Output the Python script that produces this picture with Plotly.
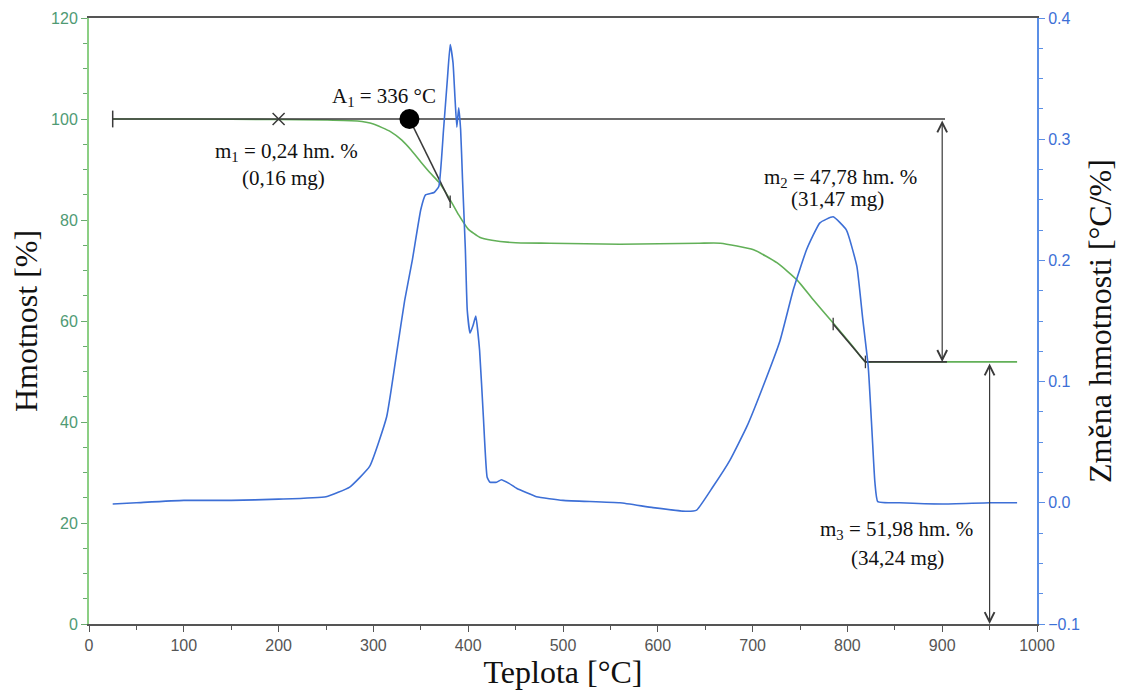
import plotly.graph_objects as go

# TG curve - weight [%]
tg_temp = [25, 100, 200, 250, 283, 300, 318, 330, 340, 350, 360, 369, 381, 390, 400,
           412, 425, 450, 486, 560, 644, 666, 701, 726, 747, 764, 785, 806, 819, 830, 900, 979]
tg_mass = [100.0, 100.0, 99.9, 99.8, 99.6, 99.0, 97.5, 95.8, 93.8, 91.5, 89.3, 87.5, 84.0, 81.0, 78.2,
           76.6, 76.0, 75.5, 75.4, 75.2, 75.4, 75.4, 74.1, 71.5, 68.1, 64.2, 59.6, 54.9, 51.9, 51.9, 51.9, 51.9]

# DTG curve - weight change rate
dtg_temp = [25, 50, 100, 150, 200, 250, 275, 296, 314, 325, 333, 341, 350, 355, 364, 369, 374, 378,
            381, 384, 386, 388, 390, 392, 394, 397, 399, 402, 405, 408, 412, 416, 420, 423, 430, 435,
            443, 451, 472, 500, 560, 595, 631, 641, 658, 676, 694, 711, 729, 743, 757, 771, 785, 799,
            810, 816, 822, 826, 829, 832, 855, 900, 950, 979]
dtg_rate = [-0.001, 0.000, 0.002, 0.002, 0.003, 0.005, 0.013, 0.030, 0.071, 0.126, 0.167, 0.200, 0.242,
            0.254, 0.256, 0.261, 0.308, 0.349, 0.378, 0.363, 0.335, 0.310, 0.326, 0.308, 0.267, 0.209,
            0.159, 0.140, 0.146, 0.154, 0.126, 0.071, 0.021, 0.017, 0.017, 0.019, 0.016, 0.012, 0.005,
            0.002, 0.000, -0.004, -0.007, -0.006, 0.013, 0.035, 0.063, 0.096, 0.134, 0.176, 0.209, 0.231,
            0.236, 0.225, 0.195, 0.153, 0.112, 0.058, 0.017, 0.001, 0.000, -0.001, 0.000, 0.000]

# evaluation construction lines
base_x = [25, 903]
base_y = [100, 100]
tangent1_x = [338, 381]
tangent1_y = [100, 83.6]
tangent2_x = [785, 819]
tangent2_y = [59.4, 51.9]
residue_x = [819, 905]
residue_y = [51.9, 51.9]
onset_x, onset_y = 338, 100
m1_mark = (200, 100)
tick_marks_x = [381, 785, 819]
tick_marks_y = [83.6, 59.4, 51.9]

GREEN = "#62b058"
BLUE = "#3d6fd6"
DARK = "#3a3a3a"
SERIF = "Liberation Serif, Times New Roman, serif"
SANS = "Liberation Sans, Arial, sans-serif"

fig = go.Figure()
fig.add_trace(go.Scatter(x=dtg_temp, y=dtg_rate, yaxis="y2", mode="lines",
                         line=dict(color=BLUE, width=1.6, shape="spline", smoothing=0.4)))
fig.add_trace(go.Scatter(x=tg_temp, y=tg_mass, mode="lines",
                         line=dict(color=GREEN, width=1.6, shape="spline", smoothing=0.5)))

for xs, ys in [(base_x, base_y), (tangent1_x, tangent1_y), (tangent2_x, tangent2_y), (residue_x, residue_y)]:
    fig.add_trace(go.Scatter(x=xs, y=ys, mode="lines", line=dict(color=DARK, width=1.6)))

fig.add_trace(go.Scatter(x=[base_x[0]], y=[base_y[0]], mode="markers",
                         marker=dict(symbol="line-ns", size=12, line=dict(color=DARK, width=1.5))))
fig.add_trace(go.Scatter(x=[m1_mark[0]], y=[m1_mark[1]], mode="markers",
                         marker=dict(symbol="x-thin", size=12, line=dict(color=DARK, width=1.5))))
fig.add_trace(go.Scatter(x=tick_marks_x, y=tick_marks_y, mode="markers",
                         marker=dict(symbol="line-ns", size=9, line=dict(color=DARK, width=1.3))))
fig.add_trace(go.Scatter(x=[onset_x], y=[onset_y], mode="markers",
                         marker=dict(symbol="circle", size=20, color="black")))

# double-headed dimension arrows
for x0, y_top, y_bot in [(900, 100, 51.9), (950, 51.9, 0)]:
    fig.add_annotation(x=x0, y=y_bot, ax=x0, ay=y_top, xref="x", yref="y", axref="x", ayref="y",
                       text="", showarrow=True, arrowside="end+start", arrowhead=5, startarrowhead=5,
                       arrowsize=1.6, startarrowsize=1.6, arrowwidth=1.2, arrowcolor=DARK,
                       standoff=0, startstandoff=0)

labels = [
    (311, 104.3, "A<sub>1</sub> = 336 °C"),
    (208, 93.5, "m<sub>1</sub> = 0,24 hm. %"),
    (205, 88.4, "(0,16 mg)"),
    (793, 88.4, "m<sub>2</sub> = 47,78 hm. %"),
    (790, 84.2, "(31,47 mg)"),
    (852, 18.7, "m<sub>3</sub> = 51,98 hm. %"),
    (853, 13.1, "(34,24 mg)"),
]
for lx, ly, txt in labels:
    fig.add_annotation(x=lx, y=ly, text=txt, showarrow=False, xref="x", yref="y",
                       font=dict(family=SERIF, size=21, color="#111"))

fig.update_layout(
    width=1113, height=685,
    margin=dict(l=81, r=84, t=10, b=69),
    paper_bgcolor="white", plot_bgcolor="white",
    showlegend=False,
    xaxis=dict(
        range=[0, 1000], dtick=100, showgrid=False, zeroline=False, automargin=False,
        showline=True, linecolor="#555", linewidth=1.5, mirror=True,
        ticks="outside", ticklen=6, tickcolor="#555",
        minor=dict(dtick=50, ticks="outside", ticklen=4, tickcolor="#555"),
        tickfont=dict(family=SANS, size=16, color="#555"),
        title=dict(text="Teplota [°C]", font=dict(family=SERIF, size=32, color="#111"), standoff=8),
    ),
    yaxis=dict(
        range=[0, 120], dtick=20, showgrid=False, zeroline=False, automargin=False,
        showline=True, linecolor="#8ccf84", linewidth=2,
        ticks="outside", ticklen=6, tickcolor="#6aaa70",
        minor=dict(dtick=5, ticks="outside", ticklen=4, tickcolor="#6aaa70"),
        tickfont=dict(family=SANS, size=16, color="#4f9a74"),
        title=dict(text="Hmotnost [%]", font=dict(family=SERIF, size=32, color="#111"), standoff=6),
    ),
    yaxis2=dict(
        range=[-0.1, 0.4], dtick=0.1, tickformat=".1f", overlaying="y", side="right",
        showgrid=False, zeroline=False, automargin=False,
        showline=True, linecolor="#5b8fe6", linewidth=2,
        ticks="outside", ticklen=6, tickcolor="#5b8fe6",
        minor=dict(dtick=0.025, ticks="outside", ticklen=4, tickcolor="#5b8fe6"),
        tickfont=dict(family=SANS, size=16, color="#3d6fd6"),
        title=dict(text="Změna hmotnosti [°C/%]", font=dict(family=SERIF, size=32, color="#111"), standoff=10),
    ),
)

fig.write_html("out.html")
